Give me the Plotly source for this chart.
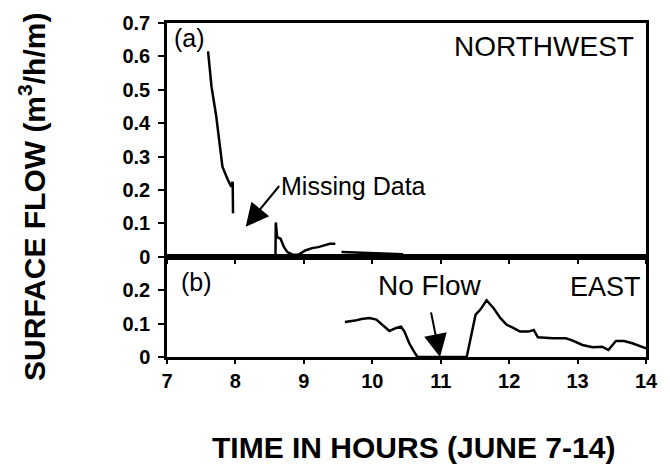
import plotly.graph_objects as go

# ---- data ----
nw_time = [7.60, 7.65, 7.72, 7.77, 7.81, 7.89, 7.94, 7.96, 7.965, None,
           8.585, 8.59, 8.61, 8.66, 8.71, 8.76, 8.83, 8.92, 9.02, 9.12, 9.21, 9.31, 9.38, 9.46, None,
           9.55, 9.70, 9.85, 10.0, 10.15, 10.30, 10.45]
nw_flow = [0.615, 0.51, 0.42, 0.34, 0.27, 0.23, 0.21, 0.225, 0.13, None,
           0.0, 0.103, 0.059, 0.054, 0.029, 0.014, 0.007, 0.006, 0.019, 0.026, 0.029, 0.034, 0.039, 0.039, None,
           0.014, 0.013, 0.012, 0.010, 0.011, 0.009, 0.008]

east_time = [9.60, 9.75, 9.84, 9.96, 10.06, 10.15, 10.25, 10.35, 10.42, 10.47, 10.54, 10.61, 10.66,
             11.0, 11.38, 11.51, 11.58, 11.67, 11.77, 11.87, 11.96, 12.06, 12.16, 12.28, 12.36, 12.42,
             12.64, 12.83, 12.93, 13.07, 13.22, 13.36, 13.45, 13.56, 13.68, 13.80, 13.94, 14.0]
east_flow = [0.105, 0.109, 0.114, 0.117, 0.112, 0.097, 0.078, 0.087, 0.091, 0.076, 0.041, 0.016, 0.0,
             0.0, 0.0, 0.127, 0.142, 0.170, 0.147, 0.117, 0.097, 0.087, 0.076, 0.076, 0.081, 0.059,
             0.056, 0.056, 0.049, 0.036, 0.029, 0.031, 0.021, 0.048, 0.048, 0.041, 0.029, 0.026]

x_ticks = [7, 8, 9, 10, 11, 12, 13, 14]
nw_yticks = [0, 0.1, 0.2, 0.3, 0.4, 0.5, 0.6, 0.7]
nw_ylabels = ["0", "0.1", "0.2", "0.3", "0.4", "0.5", "0.6", "0.7"]
east_yticks = [0, 0.1, 0.2]
east_ylabels = ["0", "0.1", "0.2"]

FONT = "Liberation Sans, Arial, Helvetica, sans-serif"
LW = 2.5

fig = go.Figure()
fig.add_trace(go.Scatter(x=nw_time, y=nw_flow, mode="lines", xaxis="x2", yaxis="y2",
                         line=dict(color="black", width=LW), connectgaps=False, showlegend=False))
fig.add_trace(go.Scatter(x=east_time, y=east_flow, mode="lines", xaxis="x", yaxis="y",
                         line=dict(color="black", width=LW), showlegend=False))

tick_font = dict(family=FONT, size=20, color="black", weight="bold")
axis_common = dict(showline=True, linecolor="black", linewidth=LW, mirror=True,
                   showgrid=False, zeroline=False, ticks="outside", tickcolor="black",
                   tickwidth=2, ticklen=6, tickfont=tick_font)

fig.update_layout(
    width=670, height=475,
    margin=dict(l=167, r=19, t=23, b=118),
    paper_bgcolor="white", plot_bgcolor="white",
    font=dict(family=FONT, color="black"),
    xaxis=dict(axis_common, range=[7, 14], tickvals=x_ticks, ticktext=[str(t) for t in x_ticks],
               anchor="y", domain=[0, 1], ticklen=4, ticklabelstandoff=0),
    yaxis=dict(axis_common, range=[0, 0.3], tickvals=east_yticks, ticktext=east_ylabels,
               domain=[0, 0.3], anchor="x", ticklabelstandoff=4),
    xaxis2=dict(axis_common, range=[7, 14], tickvals=x_ticks, showticklabels=False,
                anchor="y2", domain=[0, 1], ticklen=4, matches="x"),
    yaxis2=dict(axis_common, range=[0, 0.7], tickvals=nw_yticks, ticktext=nw_ylabels,
                domain=[0.3, 1], anchor="x2", ticklabelstandoff=4),
)

arrow_style = dict(showarrow=True, arrowhead=2, arrowsize=2.3, arrowwidth=2,
                   arrowcolor="black", standoff=0)
annotations = [
    dict(text="(a)", xref="x2", yref="y2", x=7.08, y=0.655, xanchor="left", yanchor="middle",
         showarrow=False, font=dict(family=FONT, size=25, color="black")),
    dict(text="NORTHWEST", xref="x2", yref="y2", x=13.85, y=0.63, xanchor="right", yanchor="middle",
         showarrow=False, font=dict(family=FONT, size=28, color="black")),
    dict(arrow_style, text="Missing Data", xref="x2", yref="y2", x=8.15, y=0.09,
         axref="x2", ayref="y2", ax=8.64, ay=0.212, xanchor="left", yanchor="middle",
         font=dict(family=FONT, size=25, color="black")),
    dict(text="(b)", xref="x", yref="y", x=7.18, y=0.225, xanchor="left", yanchor="middle",
         showarrow=False, font=dict(family=FONT, size=25, color="black")),
    dict(text="EAST", xref="x", yref="y", x=13.95, y=0.21, xanchor="right", yanchor="middle",
         showarrow=False, font=dict(family=FONT, size=27, color="black")),
    dict(arrow_style, text="No Flow", xref="x", yref="y", x=10.99, y=0.0,
         axref="x", ayref="y", ax=10.83, ay=0.163, xanchor="center", yanchor="bottom",
         startstandoff=10, font=dict(family=FONT, size=28, color="black")),
    dict(text="<b>SURFACE FLOW (m<sup>3</sup>/h/m)</b>", xref="paper", yref="paper",
         x=-0.282, y=0.479, xanchor="center", yanchor="middle", textangle=-90,
         showarrow=False, font=dict(family=FONT, size=30, color="black")),
    dict(text="<b>TIME IN HOURS (JUNE 7-14)</b>", xref="paper", yref="paper",
         x=0.514, y=-0.272, xanchor="center", yanchor="middle",
         showarrow=False, font=dict(family=FONT, size=30, color="black")),
]
fig.update_layout(annotations=annotations)

fig.write_html("out.html")
